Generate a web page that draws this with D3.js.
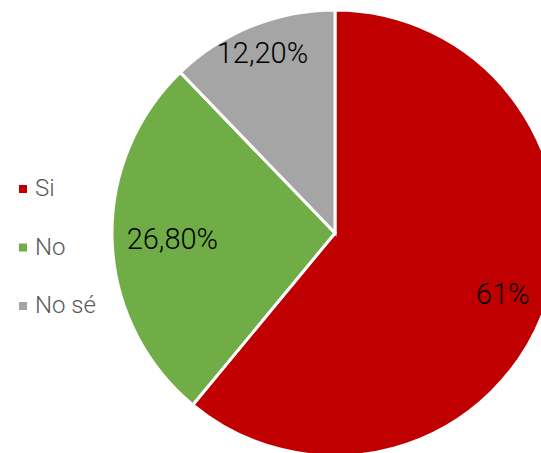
<!DOCTYPE html>
<html>
<head>
<meta charset="utf-8">
<script src="https://cdn.jsdelivr.net/npm/d3@7"></script>
<style>
  html, body { margin: 0; padding: 0; background: #fff; }
  svg { display: block; font-family: Roboto, "Noto Sans", sans-serif; }
</style>
</head>
<body>
<svg id="chart" width="541" height="453"></svg>
<script>
// Survey answers and their shares (percent)
const categories = ["Si", "No", "No sé"];
const values = [61, 26.8, 12.2];
const valueLabels = ["61%", "26,80%", "12,20%"];
const colors = ["#C00000", "#70AD47", "#A5A5A5"];

const width = 541, height = 453;
const cx = 335, cy = 233, radius = 223;
// radial placement of each value label, as a fraction of the radius
const labelRadius = [0.80, 0.73, 0.87];

const svg = d3.select("#chart");

const pie = d3.pie().sort(null).value(d => d.value);
const data = categories.map((c, i) => ({ name: c, value: values[i], label: valueLabels[i], color: colors[i], lr: labelRadius[i] }));
const arcs = pie(data);

const arc = d3.arc().innerRadius(0).outerRadius(radius);

const g = svg.append("g").attr("transform", `translate(${cx},${cy})`);

g.selectAll("path.slice")
  .data(arcs)
  .join("path")
  .attr("class", "slice")
  .attr("d", arc)
  .attr("fill", d => d.data.color)
  .attr("stroke", "#fff")
  .attr("stroke-width", 3)
  .attr("stroke-linejoin", "miter");

g.selectAll("text.val")
  .data(arcs)
  .join("text")
  .attr("class", "val")
  .attr("transform", d => {
    const a = d3.arc().innerRadius(radius * d.data.lr).outerRadius(radius * d.data.lr);
    const [x, y] = a.centroid(d);
    return `translate(${x},${y})`;
  })
  .attr("text-anchor", "middle")
  .attr("dy", "0.35em")
  .attr("font-size", 29)
  .attr("font-weight", 300)
  .attr("fill", "#000")
  .text(d => d.data.label);

// Legend
const legendY = d3.scalePoint().domain(categories).range([188, 305]);
const legend = svg.append("g");
const items = legend.selectAll("g")
  .data(data)
  .join("g")
  .attr("transform", d => `translate(19,${legendY(d.name)})`);
items.append("rect")
  .attr("x", 0).attr("y", -3)
  .attr("width", 8).attr("height", 8)
  .attr("fill", d => d.color);
items.append("text")
  .attr("x", 16)
  .attr("dy", "0.35em")
  .attr("font-size", 24)
  .attr("font-weight", 300)
  .attr("fill", "#595959")
  .text(d => d.name);
</script>
</body>
</html>
